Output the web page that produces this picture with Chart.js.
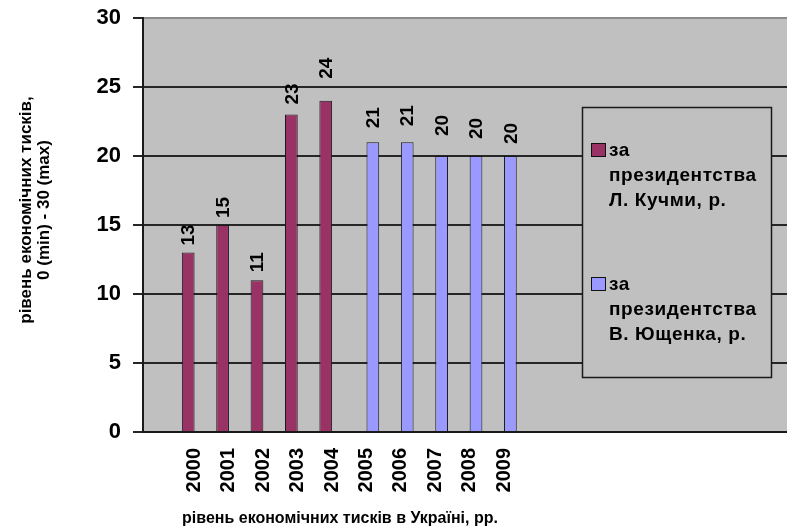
<!DOCTYPE html>
<html>
<head>
<meta charset="utf-8">
<script src="https://cdn.jsdelivr.net/npm/chart.js@4/dist/chart.umd.min.js"></script>
<style>
  html, body { margin: 0; padding: 0; background: #ffffff; overflow: hidden; }
  #wrap { width: 787px; height: 532px; }
</style>
</head>
<body>
<div id="wrap"><canvas id="chart" width="787" height="532"></canvas></div>
<script>
// Economic pressure level in Ukraine by year, 0 (min) - 30 (max)
const kuchmaYears = [2000, 2001, 2002, 2003, 2004];
const kuchmaValues = [13, 15, 11, 23, 24];
const yushchenkoYears = [2005, 2006, 2007, 2008, 2009];
const yushchenkoValues = [21, 21, 20, 20, 20];
const yearTicks = [2000, 2001, 2002, 2003, 2004, 2005, 2006, 2007, 2008, 2009];
const valueTicks = [0, 5, 10, 15, 20, 25, 30];
const seriesNames = [
  ['за', 'президентства', 'Л. Кучми, р.'],
  ['за', 'президентства', 'В. Ющенка, р.']
];
const yTitleLines = ['рівень економічних тисків,', '0 (min) - 30 (max)'];
const xTitleText = 'рівень економічних тисків в Україні, рр.';

const FONT = "'Liberation Sans', Arial, Helvetica, sans-serif";
const COLORS = ['#993366', '#9999ff'];

function points(xs, ys) {
  return xs.map((x, i) => ({ x: x, y: ys[i] }));
}

// grey plot background
const plotBackground = {
  id: 'plotBackground',
  beforeDraw(chart) {
    const { ctx, chartArea: a } = chart;
    ctx.save();
    ctx.fillStyle = '#c0c0c0';
    ctx.fillRect(a.left, a.top, a.right - a.left, a.bottom - a.top);
    ctx.restore();
  }
};

// vertical value labels above each bar
const barValueLabels = {
  id: 'barValueLabels',
  afterDatasetsDraw(chart, args, opts) {
    const { ctx } = chart;
    ctx.save();
    ctx.font = 'bold 19px ' + FONT;
    ctx.fillStyle = '#000';
    ctx.textAlign = 'left';
    ctx.textBaseline = 'middle';
    let k = 0;
    chart.data.datasets.forEach((ds, di) => {
      const meta = chart.getDatasetMeta(di);
      meta.data.forEach((bar, i) => {
        const gap = opts.gaps[k++] ?? 10;
        ctx.save();
        ctx.translate(bar.x + 1, bar.y - gap);
        ctx.rotate(-Math.PI / 2);
        ctx.fillText(String(ds.data[i].y), 0, 0);
        ctx.restore();
      });
    });
    ctx.restore();
  }
};

// boxed legend over the plot area and both axis titles
const sideLegendAndTitles = {
  id: 'sideLegendAndTitles',
  afterDraw(chart) {
    const { ctx } = chart;
    ctx.save();
    // legend box
    ctx.fillStyle = '#c0c0c0';
    ctx.fillRect(582, 107, 189, 270);
    ctx.strokeStyle = '#1a1a1a';
    ctx.lineWidth = 1.5;
    ctx.strokeRect(582.5, 107.5, 189, 270);

    ctx.font = 'bold 19px ' + FONT;
    if ('letterSpacing' in ctx) ctx.letterSpacing = '0.6px';
    ctx.textAlign = 'left';
    ctx.textBaseline = 'alphabetic';
    const itemTops = [143, 277];
    chart.data.datasets.forEach((ds, di) => {
      const top = itemTops[di];
      ctx.fillStyle = ds.backgroundColor;
      ctx.fillRect(591, top, 15, 14);
      ctx.strokeStyle = '#111';
      ctx.lineWidth = 1;
      ctx.strokeRect(591.5, top + 0.5, 14, 13);
      ctx.fillStyle = '#000';
      seriesNames[di].forEach((line, li) => {
        ctx.fillText(line, 609, top + 13 + li * 25);
      });
    });
    if ('letterSpacing' in ctx) ctx.letterSpacing = '0px';

    // y axis title (two lines, rotated)
    ctx.font = 'bold 17px ' + FONT;
    ctx.textAlign = 'center';
    ctx.textBaseline = 'middle';
    yTitleLines.forEach((line, li) => {
      ctx.save();
      ctx.translate(26 + li * 18, 210);
      ctx.rotate(-Math.PI / 2);
      ctx.fillText(line, 0, 0);
      ctx.restore();
    });

    // x axis title
    ctx.font = 'bold 16px ' + FONT;
    ctx.fillText(xTitleText, 340, 519);
    ctx.restore();
  }
};

new Chart(document.getElementById('chart'), {
  type: 'bar',
  data: {
    datasets: [
      {
        label: seriesNames[0].join(' '),
        data: points(kuchmaYears, kuchmaValues),
        backgroundColor: COLORS[0],
        borderColor: '#1a1a1a',
        borderWidth: 1
      },
      {
        label: seriesNames[1].join(' '),
        data: points(yushchenkoYears, yushchenkoValues),
        backgroundColor: COLORS[1],
        borderColor: '#1a1a1a',
        borderWidth: 1
      }
    ]
  },
  options: {
    responsive: false,
    animation: false,
    events: [],
    barPercentage: 1.0,
    categoryPercentage: 0.74,
    layout: { padding: { left: 0, top: 18, right: 0, bottom: 0 } },
    plugins: {
      legend: { display: false },
      tooltip: { enabled: false },
      barValueLabels: { gaps: [7, 7, 8, 10, 22, 14, 16, 20, 17, 12] }
    },
    scales: {
      x: {
        type: 'linear',
        min: 1998.5,
        max: 2017.23,
        offset: false,
        afterFit(scale) {
          scale.height = 100;
          scale.paddingLeft = 0;
          scale.paddingRight = 0;
        },
        afterBuildTicks(scale) { scale.ticks = yearTicks.map(v => ({ value: v })); },
        grid: { display: false },
        border: { display: true, color: '#1a1a1a', width: 2 },
        ticks: {
          autoSkip: false,
          minRotation: 90,
          maxRotation: 90,
          padding: 8,
          color: '#000',
          font: { family: FONT, size: 20, weight: 'bold' },
          callback: v => String(v)
        }
      },
      y: {
        min: 0,
        max: 30,
        afterFit(scale) {
          scale.width = 143;
          scale.paddingTop = 0;
          scale.paddingBottom = 0;
        },
        afterBuildTicks(scale) { scale.ticks = valueTicks.map(v => ({ value: v })); },
        grid: {
          color: c => (c.tick && c.tick.value === 30 ? '#8c8c8c' : '#262626'),
          lineWidth: 2,
          tickLength: 10,
          tickColor: '#262626'
        },
        border: { display: true, color: '#1a1a1a', width: 2 },
        ticks: {
          padding: 12,
          color: '#000',
          font: { family: FONT, size: 22, weight: 'bold' }
        }
      }
    }
  },
  plugins: [plotBackground, barValueLabels, sideLegendAndTitles]
});
</script>
</body>
</html>
